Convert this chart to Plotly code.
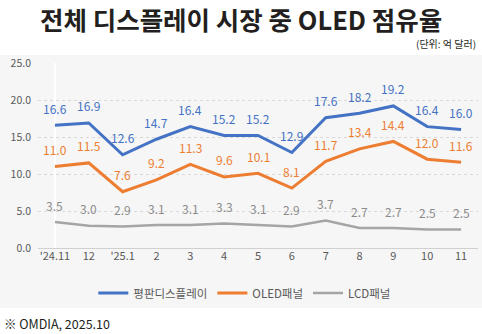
import plotly.graph_objects as go

categories = ["'24.11", "12", "'25.1", "2", "3", "4", "5", "6", "7", "8", "9", "10", "11"]
flat_display = [16.6, 16.9, 12.6, 14.7, 16.4, 15.2, 15.2, 12.9, 17.6, 18.2, 19.2, 16.4, 16.0]
oled_panel = [11.0, 11.5, 7.6, 9.2, 11.3, 9.6, 10.1, 8.1, 11.7, 13.4, 14.4, 12.0, 11.6]
lcd_panel = [3.5, 3.0, 2.9, 3.1, 3.1, 3.3, 3.1, 2.9, 3.7, 2.7, 2.7, 2.5, 2.5]
series_names = ["평판디스플레이", "OLED패널", "LCD패널"]
y_ticks = [0, 5, 10, 15, 20, 25]

colors = ["#4472C4", "#ED7D31", "#A5A5A5"]
label_colors = ["#4472C4", "#ED7D31", "#8C8C8C"]
widths = [3, 3, 2.5]
FONT = "Noto Sans CJK KR"

W, H = 482, 334
L, R, T, B = 38, 4, 63, 86
pw, ph = W - L - R, H - T - B

def px_x(x):
    return (x - L) / pw

def px_y(y):
    return (H - B - y) / ph

idx = list(range(len(categories)))

fig = go.Figure()
annotations = []
for name, vals, c, lc, w in zip(series_names, [flat_display, oled_panel, lcd_panel], colors, label_colors, widths):
    fig.add_trace(go.Scatter(x=idx, y=vals, mode="lines", name=name,
                             line=dict(color=c, width=w)))
    for i, v in zip(idx, vals):
        annotations.append(dict(x=i, y=v, xref="x", yref="y", text=f"{v:.1f}",
                                showarrow=False, yshift=17,
                                font=dict(family=FONT, size=12, color=lc)))

annotations += [
    dict(x=px_x(241), y=px_y(18), xref="paper", yref="paper", text="<b>전체 디스플레이 시장 중 OLED 점유율</b>",
         showarrow=False, xanchor="center", yanchor="middle",
         font=dict(family=FONT, size=25.5, color="#231f20")),
    dict(x=px_x(478), y=px_y(44), xref="paper", yref="paper", text="(단위: 억 달러)",
         showarrow=False, xanchor="right", yanchor="middle",
         font=dict(family=FONT, size=10, color="#231f20")),
    dict(x=px_x(2), y=px_y(323), xref="paper", yref="paper", text="※ OMDIA, 2025.10",
         showarrow=False, xanchor="left", yanchor="middle",
         font=dict(family=FONT, size=12.5, color="#231f20")),
]

fig.update_layout(
    width=W, height=H,
    margin=dict(l=L, r=R, t=T, b=B),
    paper_bgcolor="white", plot_bgcolor="rgba(0,0,0,0)",
    font=dict(family=FONT, color="#595959"),
    showlegend=True,
    legend=dict(orientation="h", x=0.47, xanchor="center", y=px_y(293), yanchor="middle",
                font=dict(family=FONT, size=11.5, color="#595959"), bgcolor="rgba(0,0,0,0)",
                itemwidth=30, tracegroupgap=0),
    annotations=annotations,
    shapes=[dict(type="rect", xref="paper", yref="paper", x0=px_x(0), x1=px_x(482),
                 y0=px_y(308), y1=px_y(55), fillcolor="#f6f6f6", line=dict(width=0), layer="below")],
)
fig.update_xaxes(range=[-0.5, 12.5], tickvals=idx, ticktext=categories,
                 showgrid=False, showline=False, ticks="",
                 tickfont=dict(family=FONT, size=11, color="#595959"))
fig.update_yaxes(range=[0, 25], tickvals=y_ticks, ticktext=[f"{v:.1f}" for v in y_ticks],
                 showgrid=True, gridcolor="#d9d9d9", griddash="dot", gridwidth=1,
                 zeroline=True, zerolinecolor="#d0d0d0", zerolinewidth=1,
                 tickfont=dict(family=FONT, size=10.5, color="#595959"), ticks="", ticklabelstandoff=6)

fig.write_html("out.html")
